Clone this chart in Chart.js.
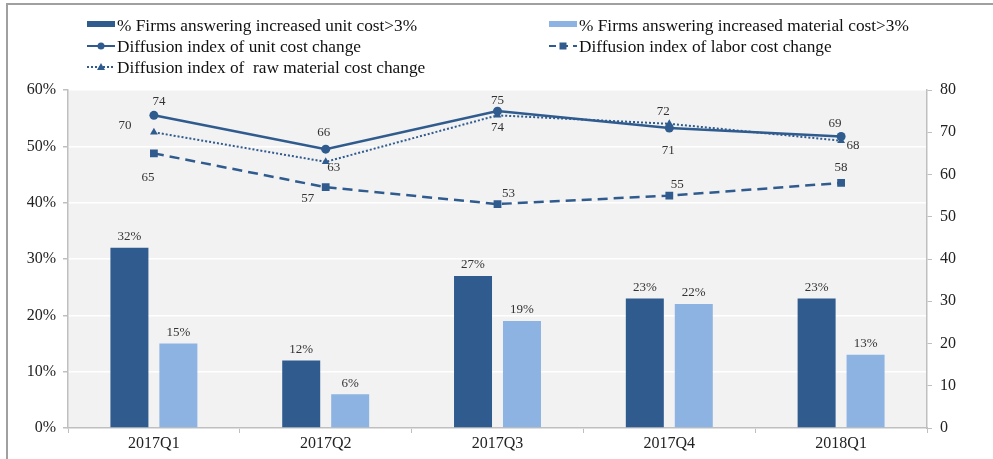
<!DOCTYPE html>
<html>
<head>
<meta charset="utf-8">
<script src="https://cdn.jsdelivr.net/npm/chart.js@4.4.1/dist/chart.umd.min.js"></script>
<style>
  html, body { margin: 0; padding: 0; background: #ffffff; }
  #wrap { width: 993px; height: 459px; position: relative; }
</style>
</head>
<body>
<div id="wrap"><canvas id="c" width="993" height="459"></canvas></div>
<script>
// Survey quarters
const quarters = ['2017Q1', '2017Q2', '2017Q3', '2017Q4', '2018Q1'];

// Share of firms (%) reporting cost increases above 3%
const unitCostShare = [32, 12, 27, 23, 23];
const materialCostShare = [15, 6, 19, 22, 13];

// Diffusion indices (right axis)
const unitCostIndex = [74, 66, 75, 71, 69];
const laborCostIndex = [65, 57, 53, 55, 58];
const rawMaterialIndex = [70, 63, 74, 72, 68];

// Axis ticks
const leftTicks = [0, 10, 20, 30, 40, 50, 60];
const rightTicks = [0, 10, 20, 30, 40, 50, 60, 70, 80];

const DARK = '#2f5b8e';
const LIGHT = '#8db3e2';
const LINE = '#2f5b8e';
const SERIF = '"Liberation Serif", "Times New Roman", serif';

// Label offsets (px) from each point, per series
const labelOffsets = {
  unit:  [[5, -14], [-2, -17], [0, -11], [-1, 23], [-6, -13]],
  raw:   [[-29, -7], [8, 6], [0, 12], [-6, -12], [12, 5]],
  labor: [[-6, 24], [-18, 11], [11, -10], [8, -11], [0, -15]]
};

const plotBackground = {
  id: 'plotBackground',
  beforeDraw(chart) {
    const { ctx, chartArea: a } = chart;
    ctx.save();
    ctx.fillStyle = '#ffffff';
    ctx.fillRect(0, 0, chart.width, chart.height);
    // outer frame (top and left edges)
    ctx.strokeStyle = '#a0a0a0';
    ctx.lineWidth = 2;
    ctx.beginPath();
    ctx.moveTo(7, chart.height);
    ctx.lineTo(7, 4);
    ctx.lineTo(chart.width, 4);
    ctx.stroke();
    ctx.fillStyle = '#f2f2f2';
    ctx.fillRect(a.left, a.top, a.right - a.left, a.bottom - a.top);
    ctx.restore();
  }
};

const valueLabels = {
  id: 'valueLabels',
  afterDatasetsDraw(chart) {
    const { ctx } = chart;
    ctx.save();
    ctx.font = '13px ' + SERIF;
    ctx.fillStyle = '#333333';
    ctx.textAlign = 'center';
    ctx.textBaseline = 'middle';
    chart.data.datasets.forEach((ds, di) => {
      const meta = chart.getDatasetMeta(di);
      meta.data.forEach((el, i) => {
        const v = ds.data[i];
        if (ds.type === 'bar') {
          ctx.fillText(v + '%', el.x, el.y - 11);
        } else {
          const off = labelOffsets[ds.key][i];
          ctx.fillText(String(v), el.x + off[0], el.y + off[1]);
        }
      });
    });
    ctx.restore();
  }
};

const customLegend = {
  id: 'customLegend',
  afterDraw(chart) {
    const { ctx } = chart;
    ctx.save();
    ctx.font = '17.3px ' + SERIF;
    ctx.fillStyle = '#111111';
    ctx.textBaseline = 'middle';
    ctx.textAlign = 'left';

    const lineSym = (x0, x1, y, dash, marker) => {
      ctx.save();
      ctx.strokeStyle = LINE;
      ctx.fillStyle = LINE;
      ctx.lineWidth = 2;
      ctx.setLineDash(dash);
      ctx.beginPath();
      ctx.moveTo(x0, y);
      ctx.lineTo(x1, y);
      ctx.stroke();
      ctx.setLineDash([]);
      const cx = (x0 + x1) / 2;
      ctx.beginPath();
      if (marker === 'circle') {
        ctx.arc(cx, y, 3.5, 0, Math.PI * 2);
      } else if (marker === 'triangle') {
        ctx.moveTo(cx, y - 4);
        ctx.lineTo(cx + 4, y + 3);
        ctx.lineTo(cx - 4, y + 3);
        ctx.closePath();
      } else {
        ctx.rect(cx - 3.5, y - 3.5, 7, 7);
      }
      ctx.fill();
      ctx.restore();
    };

    // column 1
    ctx.fillStyle = DARK;
    ctx.fillRect(87, 21, 28, 6);
    ctx.fillStyle = '#111111';
    ctx.fillText('% Firms answering increased unit cost>3%', 117, 26);
    lineSym(87, 115, 46, [], 'circle');
    ctx.fillText('Diffusion index of unit cost change', 117, 47);
    lineSym(87, 115, 67, [2, 2], 'triangle');
    ctx.fillText('Diffusion index of  raw material cost change', 117, 68);

    // column 2
    ctx.fillStyle = LIGHT;
    ctx.fillRect(549, 21, 28, 6);
    ctx.fillStyle = '#111111';
    ctx.fillText('% Firms answering increased material cost>3%', 579, 26);
    lineSym(549, 577, 46, [7, 5], 'rect');
    ctx.fillText('Diffusion index of labor cost change', 579, 47);
    ctx.restore();
  }
};

new Chart(document.getElementById('c'), {
  data: {
    labels: quarters,
    datasets: [
      {
        type: 'line', key: 'unit', label: 'Diffusion index of unit cost change',
        data: unitCostIndex, yAxisID: 'y1',
        borderColor: LINE, backgroundColor: LINE, borderWidth: 2.5,
        pointStyle: 'circle', pointRadius: 4.5, pointBorderWidth: 0, order: 1
      },
      {
        type: 'line', key: 'labor', label: 'Diffusion index of labor cost change',
        data: laborCostIndex, yAxisID: 'y1',
        borderColor: LINE, backgroundColor: LINE, borderWidth: 2.5, borderDash: [10, 6],
        pointStyle: 'rect', pointRadius: 5.5, pointBorderWidth: 0, order: 1
      },
      {
        type: 'line', key: 'raw', label: 'Diffusion index of  raw material cost change',
        data: rawMaterialIndex, yAxisID: 'y1',
        borderColor: LINE, backgroundColor: LINE, borderWidth: 2, borderDash: [2, 2],
        pointStyle: 'triangle', pointRadius: 4.5, pointBorderWidth: 0, order: 1
      },
      {
        type: 'bar', label: '% Firms answering increased unit cost>3%',
        data: unitCostShare, yAxisID: 'y',
        backgroundColor: DARK, categoryPercentage: 0.57, barPercentage: 0.776, order: 2
      },
      {
        type: 'bar', label: '% Firms answering increased material cost>3%',
        data: materialCostShare, yAxisID: 'y',
        backgroundColor: LIGHT, categoryPercentage: 0.57, barPercentage: 0.776, order: 2
      }
    ]
  },
  options: {
    responsive: false,
    animation: false,
    devicePixelRatio: 1,
    layout: { padding: { top: 90, left: 0, right: 0, bottom: 0 } },
    plugins: { legend: { display: false }, tooltip: { enabled: false } },
    scales: {
      x: {
        offset: true,
        grid: { offset: true, drawOnChartArea: false, color: '#bfbfbf', tickColor: '#bfbfbf', tickLength: 5 },
        border: { color: '#bfbfbf', width: 1.5 },
        ticks: { color: '#222222', font: { family: SERIF, size: 16 }, padding: 1, maxRotation: 0 },
        afterFit(s) { s.height = 31; }
      },
      y: {
        position: 'left', min: 0, max: 60,
        afterBuildTicks(s) { s.ticks = leftTicks.map(v => ({ value: v })); },
        grid: { color: '#ffffff', lineWidth: 1.5, tickColor: '#bfbfbf', tickLength: 5 },
        border: { color: '#bfbfbf', width: 1.5 },
        ticks: { color: '#222222', font: { family: SERIF, size: 16 }, padding: 7, callback: v => v + '%' },
        afterFit(s) { s.width = 68; }
      },
      y1: {
        position: 'right', min: 0, max: 80,
        afterBuildTicks(s) { s.ticks = rightTicks.map(v => ({ value: v })); },
        grid: { drawOnChartArea: false, tickColor: '#bfbfbf', tickLength: 5 },
        border: { color: '#bfbfbf', width: 1.5 },
        ticks: { color: '#222222', font: { family: SERIF, size: 16 }, padding: 8 },
        afterFit(s) { s.width = 66; }
      }
    }
  },
  plugins: [plotBackground, valueLabels, customLegend]
});
</script>
</body>
</html>
